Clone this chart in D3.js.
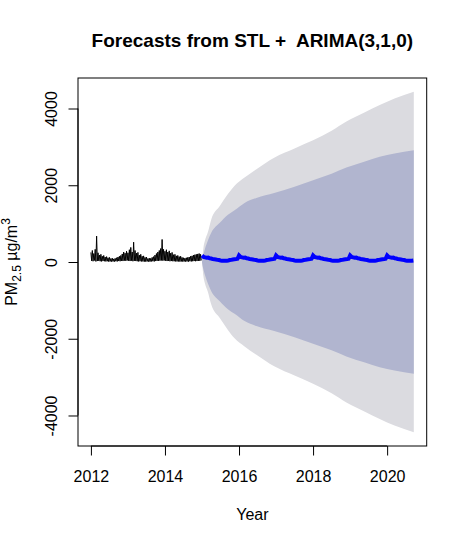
<!DOCTYPE html>
<html>
<head>
<meta charset="utf-8">
<script src="https://cdn.jsdelivr.net/npm/d3@7"></script>
<style>
  body { margin: 0; background: #fff; }
  text { font-family: "Liberation Sans", Arial, sans-serif; }
</style>
</head>
<body>
<svg id="chart" width="467" height="544"></svg>
<script>
// observed weekly PM2.5 (alternating weekly high / low readings), 2012 - 2014
var pm2012 = [250,30,300,20,220,40,330,15,675,25,240,30,180,20,200,15,150,25,170,20,130,15,140,20,110,10,120,15,90,10,100,15,80,10,95,20,110,15,130,25,150,20,170,30,210,25,260,35,230,30,280,40]
var pm2013 = [240,30,320,25,380,35,260,20,516,30,300,25,230,20,250,15,180,20,200,15,150,15,160,10,120,10,130,15,90,10,100,10,95,15,120,20,140,15,180,25,220,30,260,30,300,35,350,40,587,35,330,40]
var pm2014 = [280,30,320,25,260,30,290,20,230,25,250,20,190,20,200,15,160,15,170,15,140,10,150,15,120,10,110,15,100,10,110,15,120,10,130,20,150,15,160,20,180,25,190,20,200,25,210,30,220,30,200,40]
var obsStart = 2012

// half-monthly point forecast, Jan 2015 - Sep 2020
var fcMean = [170,130,120,110,115,95,90,75,70,65,55,50,40,35,30,30,35,40,50,55,65,70,75,85,
              170,130,120,110,115,95,90,75,70,65,55,50,40,35,30,30,35,40,50,55,65,70,75,85,
              170,130,120,110,115,95,90,75,70,65,55,50,40,35,30,30,35,40,50,55,65,70,75,85,
              170,130,120,110,115,95,90,75,70,65,55,50,40,35,30,30,35,40,50,55,65,70,75,85,
              170,130,120,110,115,95,90,75,70,65,55,50,40,35,30,30,35,40,50,55,65,70,75,85,
              170,130,120,110,115,95,90,75,70,65,55,50,40,35,30,30,35,40]
var fcStart = 2015

// prediction interval half-widths
var bandYears = [2015.0,2015.015,2015.04,2015.08,2015.16,2015.25,2015.48,2015.7,2015.88,2016.15,2016.47,2016.95,2017.5,2018.0,2018.5,2018.9,2019.4,2019.8,2020.2,2020.72]
var hw95 = [0,150,380,560,780,1110,1460,1770,1990,2200,2420,2720,2960,3170,3420,3660,3900,4090,4260,4440]
var hw80 = [0,90,200,340,560,760,1020,1230,1350,1540,1670,1800,1960,2130,2300,2460,2620,2740,2830,2910]

var xTicks = [2012,2014,2016,2018,2020]
var yTicks = [-4000,-2000,0,2000,4000]

var svg = d3.select("#chart")
var pLeft = 78, pRight = 426.7, pTop = 78, pBottom = 446

var obs = pm2012.concat(pm2013, pm2014).map(function(v, i) {
  return {t: obsStart + i/52, v: v}
})
var fc = fcMean.map(function(v, i) { return {t: fcStart + i/24, v: v} })
var bands = bandYears.map(function(t, i) { return {t: t, h95: hw95[i], h80: hw80[i]} })

// R style 4% padding
function pad(lo, hi) { var w = hi - lo; return [lo - 0.04*w, hi + 0.04*w] }
var xDom = pad(obsStart, d3.max(bandYears))
var yDom = pad(-d3.max(hw95), d3.max(hw95))

var x = d3.scaleLinear().domain(xDom).range([pLeft, pRight])
var y = d3.scaleLinear().domain(yDom).range([pBottom, pTop])

var area95 = d3.area().x(d => x(d.t)).y0(d => y(-d.h95)).y1(d => y(d.h95)).curve(d3.curveMonotoneX)
var area80 = d3.area().x(d => x(d.t)).y0(d => y(-d.h80)).y1(d => y(d.h80)).curve(d3.curveMonotoneX)

svg.append("path").datum(bands).attr("d", area95).attr("fill", "#dbdbe0")
svg.append("path").datum(bands).attr("d", area80).attr("fill", "#b1b5cf")

var line = d3.line().x(d => x(d.t)).y(d => y(d.v))
svg.append("path").datum(obs).attr("d", line)
  .attr("fill", "none").attr("stroke", "black").attr("stroke-width", 1)
svg.append("path").datum(fc).attr("d", line)
  .attr("fill", "none").attr("stroke", "#0000ff").attr("stroke-width", 4)

svg.append("rect")
  .attr("x", pLeft).attr("y", pTop)
  .attr("width", pRight - pLeft).attr("height", pBottom - pTop)
  .attr("fill", "none").attr("stroke", "black").attr("stroke-width", 1)

var fmt = d => String(d)

var xAxis = svg.append("g").attr("transform", "translate(0," + pBottom + ")")
  .call(d3.axisBottom(x).tickValues(xTicks).tickFormat(fmt).tickSize(9.5).tickPadding(15))
xAxis.select(".domain").attr("d", "M" + x(2012) + ",0H" + x(2020))
xAxis.selectAll("text").attr("font-size", 16).attr("fill", "black")
  .attr("font-family", "Liberation Sans, Arial, sans-serif")
xAxis.selectAll("line").attr("stroke", "black")

var yAxis = svg.append("g").attr("transform", "translate(" + pLeft + ",0)")
  .call(d3.axisLeft(y).tickValues(yTicks).tickFormat(fmt).tickSize(9.5).tickPadding(0))
yAxis.select(".domain").attr("d", "M0," + y(-4000) + "V" + y(4000))
yAxis.selectAll("line").attr("stroke", "black")
yAxis.selectAll("text")
  .attr("font-size", 16).attr("fill", "black")
  .attr("font-family", "Liberation Sans, Arial, sans-serif")
  .attr("text-anchor", "middle")
  .attr("x", null).attr("dy", null)
  .attr("transform", "translate(-21,0) rotate(-90)")

svg.append("text")
  .attr("x", (pLeft + pRight)/2).attr("y", 47)
  .attr("text-anchor", "middle")
  .attr("font-size", 19).attr("font-weight", "bold")
  .style("white-space", "pre")
  .text("Forecasts from STL +  ARIMA(3,1,0)")

svg.append("text")
  .attr("x", (pLeft + pRight)/2).attr("y", 520)
  .attr("text-anchor", "middle").attr("font-size", 16)
  .text("Year")

var yl = svg.append("text")
  .attr("transform", "translate(17," + (pTop + pBottom)/2 + ") rotate(-90)")
  .attr("text-anchor", "middle").attr("font-size", 16)
yl.append("tspan").text("PM")
yl.append("tspan").attr("font-size", 12).attr("dy", 4).text("2.5")
yl.append("tspan").attr("dy", -4).text(" µg/m")
yl.append("tspan").attr("font-size", 12).attr("dy", -7).text("3")
</script>
</body>
</html>
